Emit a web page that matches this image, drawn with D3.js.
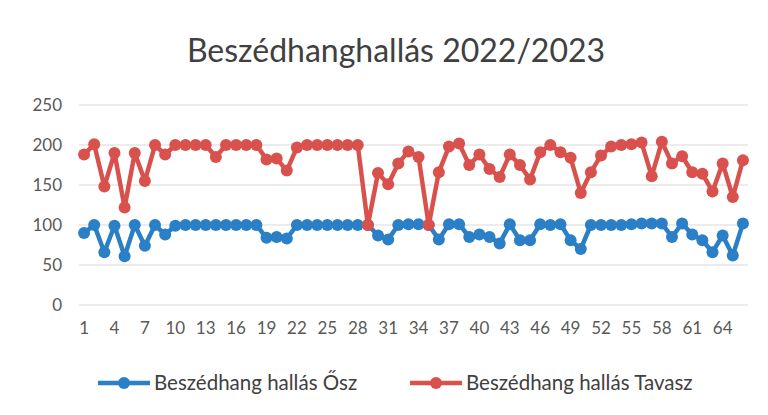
<!DOCTYPE html>
<meta charset="utf-8">
<style>
    body {
        margin: 0;
        background: #fff;
        font-family: Lato, "Open Sans", sans-serif;
    }

    .grid line {
        stroke: #d9d9d9;
        stroke-width: 1px;
    }

    .tick-label {
        fill: #595959;
        font-size: 17px;
    }
</style>

<body>
    <script src="https://d3js.org/d3.v7.min.js"></script>
    <script>
        // Measurement index 1..66
        var categories = d3.range(1, 67);
        // Every third category gets a label
        var xTickLabels = [1, 4, 7, 10, 13, 16, 19, 22, 25, 28, 31, 34, 37, 40, 43, 46, 49, 52, 55, 58, 61, 64];
        var yTickValues = [0, 50, 100, 150, 200, 250];

        var seriesNames = ["Beszédhang hallás Ősz", "Beszédhang hallás Tavasz"];
        var seriesColors = ["#2a7fc6", "#d9514d"];

        // Autumn values
        var osz = [90, 100, 66, 99, 61, 100, 74, 100, 88, 99,
            100, 100, 100, 100, 100, 100, 100, 100, 84, 85,
            83, 100, 100, 100, 100, 100, 100, 100, 100, 87,
            82, 100, 101, 101, 100, 82, 101, 101, 85, 88,
            85, 77, 101, 81, 81, 101, 100, 101, 81, 70,
            100, 100, 100, 100, 101, 102, 102, 102, 85, 102,
            88, 81, 66, 87, 62, 102];

        // Spring values
        var tavasz = [188, 201, 148, 190, 122, 190, 155, 200, 188, 200,
            200, 200, 200, 185, 200, 200, 200, 200, 182, 183,
            168, 197, 200, 200, 200, 200, 200, 200, 100, 165,
            151, 177, 192, 185, 100, 166, 198, 202, 175, 188,
            170, 160, 188, 175, 157, 191, 200, 191, 184, 140,
            166, 187, 198, 200, 201, 203, 161, 204, 177, 186,
            166, 164, 142, 177, 135, 181];

        var width = 768,
            height = 415;

        var svg = d3.select("body").append("svg")
            .attr("width", width)
            .attr("height", height);

        // Spread categories over the plot area
        var x = d3.scaleBand()
            .domain(categories)
            .range([79, 748]);

        var y = d3.scaleLinear()
            .domain([0, 250])
            .range([305, 105]);

        function cx(d) {
            return x(d) + x.bandwidth() / 2;
        }

        // Title
        svg.append("text")
            .attr("x", 396)
            .attr("y", 62)
            .attr("text-anchor", "middle")
            .attr("fill", "#404040")
            .style("font-size", "32px")
            .text("Beszédhanghallás 2022/2023");

        // Horizontal gridlines
        svg.append("g")
            .attr("class", "grid")
            .selectAll("line")
            .data(yTickValues)
            .enter().append("line")
            .attr("x1", 79)
            .attr("x2", 748)
            .attr("y1", function (d) { return y(d); })
            .attr("y2", function (d) { return y(d); });

        // Y axis labels
        svg.append("g")
            .selectAll("text")
            .data(yTickValues)
            .enter().append("text")
            .attr("class", "tick-label")
            .attr("x", 62)
            .attr("y", function (d) { return y(d); })
            .attr("dy", "0.35em")
            .attr("text-anchor", "end")
            .text(function (d) { return d; });

        // X axis labels
        svg.append("g")
            .selectAll("text")
            .data(xTickLabels)
            .enter().append("text")
            .attr("class", "tick-label")
            .attr("x", cx)
            .attr("y", 328)
            .attr("dy", "0.35em")
            .attr("text-anchor", "middle")
            .text(function (d) { return d; });

        var line = d3.line()
            .x(function (d, i) { return cx(categories[i]); })
            .y(function (d) { return y(d); });

        [osz, tavasz].forEach(function (values, s) {
            var g = svg.append("g");
            g.append("path")
                .datum(values)
                .attr("fill", "none")
                .attr("stroke", seriesColors[s])
                .attr("stroke-width", 4.5)
                .attr("stroke-linejoin", "round")
                .attr("d", line);
            g.selectAll("circle")
                .data(values)
                .enter().append("circle")
                .attr("cx", function (d, i) { return cx(categories[i]); })
                .attr("cy", function (d) { return y(d); })
                .attr("r", 6)
                .attr("fill", seriesColors[s]);
        });

        // Legend
        var legendX = [98, 410];
        var legend = svg.append("g")
            .selectAll("g")
            .data(seriesNames)
            .enter().append("g")
            .attr("transform", function (d, i) { return "translate(" + legendX[i] + ",383)"; });
        legend.append("line")
            .attr("x1", 0)
            .attr("x2", 52)
            .attr("stroke", function (d, i) { return seriesColors[i]; })
            .attr("stroke-width", 4.5);
        legend.append("circle")
            .attr("cx", 26)
            .attr("r", 6)
            .attr("fill", function (d, i) { return seriesColors[i]; });
        legend.append("text")
            .attr("x", 56)
            .attr("dy", "0.35em")
            .attr("fill", "#404040")
            .style("font-size", "20.5px")
            .text(function (d) { return d; });
    </script>
</body>
